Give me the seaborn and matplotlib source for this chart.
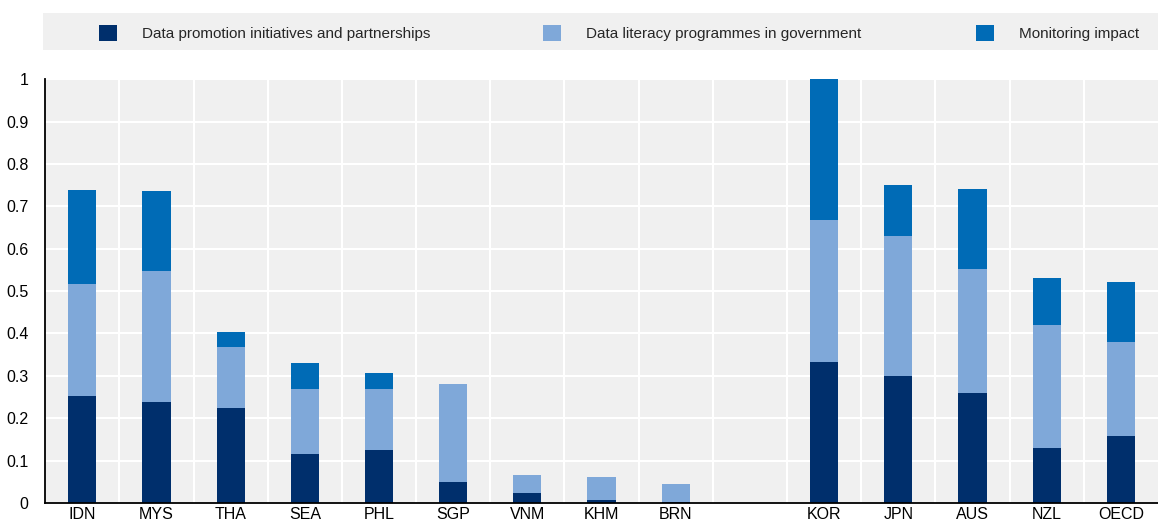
import numpy as np
import pandas as pd
import matplotlib
matplotlib.use("Agg")
import matplotlib.pyplot as plt
import matplotlib.patches as mpatches
import seaborn as sns

# Data (gap slot between BRN and KOR)
countries = ["IDN", "MYS", "THA", "SEA", "PHL", "SGP", "VNM", "KHM", "BRN", "",
             "KOR", "JPN", "AUS", "NZL", "OECD"]
promotion = [0.253, 0.239, 0.224, 0.115, 0.124, 0.049, 0.023, 0.008, 0.002, np.nan,
             0.333, 0.300, 0.260, 0.130, 0.159]
literacy = [0.263, 0.309, 0.143, 0.155, 0.145, 0.232, 0.043, 0.054, 0.044, np.nan,
            0.335, 0.331, 0.291, 0.290, 0.221]
monitoring = [0.222, 0.189, 0.036, 0.061, 0.037, 0.0, 0.0, 0.0, 0.0, np.nan,
              0.332, 0.119, 0.190, 0.110, 0.141]

series_names = ["Data promotion initiatives and partnerships",
                "Data literacy programmes in government",
                "Monitoring impact"]
colors = ["#002F6C", "#7FA8D9", "#006BB6"]

df = pd.DataFrame({"country": countries, "promotion": promotion,
                   "literacy": literacy, "monitoring": monitoring})
df["lvl1"] = df["promotion"]
df["lvl2"] = df["promotion"] + df["literacy"]
df["lvl3"] = df["lvl2"] + df["monitoring"]

sns.set_style("white")
plt.rcParams["font.family"] = ["Liberation Sans", "DejaVu Sans"]

fig = plt.figure(figsize=(11.58, 5.24), dpi=100)
ax = fig.add_axes([0.039, 0.040, 0.961, 0.809])
ax.set_facecolor("#F0F0F0")

# stacked: draw cumulative totals, tallest first
for col, c in zip(["lvl3", "lvl2", "lvl1"], [colors[2], colors[1], colors[0]]):
    sns.barplot(data=df, x="country", y=col, order=countries, color=c,
                width=0.38, saturation=1, linewidth=0, ax=ax, zorder=3)

n = len(countries)
ax.set_xlim(-0.5, n - 0.5)
ax.set_ylim(0, 1.0)
ax.set_yticks(np.arange(0, 1.01, 0.1))
ax.set_yticklabels(["0"] + [f"{v:.1f}" for v in np.arange(0.1, 0.95, 0.1)] + ["1"])
ax.set_xticks(range(n))
ax.set_xticklabels(countries)
ax.set_xticks(np.arange(0.5, n - 0.5, 1), minor=True)
ax.grid(False)
for y in np.arange(0.1, 1.01, 0.1):
    ax.axhline(y, color="white", linewidth=1.5, zorder=1)
for x in np.arange(0.5, n - 0.5, 1):
    ax.axvline(x, color="white", linewidth=1.5, zorder=1)

ax.tick_params(axis="x", which="major", length=0, labelsize=11.5, pad=3, colors="black")
ax.tick_params(axis="x", which="minor", direction="in", length=5, width=1.2, color="black")
ax.tick_params(axis="y", direction="in", length=5, width=1.2, labelsize=11.5, pad=12,
               colors="black")
ax.set_xlabel("")
ax.set_ylabel("")
for s in ["top", "right"]:
    ax.spines[s].set_visible(False)
for s in ["left", "bottom"]:
    ax.spines[s].set_color("black")
    ax.spines[s].set_linewidth(1.3)
ax.spines["left"].set_zorder(5)
ax.spines["bottom"].set_zorder(5)

# legend strip
W, H = 1158.0, 524.0
fig.patches.append(mpatches.Rectangle((43 / W, 1 - 50 / H), (1158 - 43) / W, 37 / H,
                                      transform=fig.transFigure, facecolor="#F0F0F0",
                                      edgecolor="none", zorder=0))
leg_x = [99, 543, 976]
for name, c, lx in zip(series_names, colors, leg_x):
    h = mpatches.Patch(facecolor=c, edgecolor="none")
    fig.legend([h], [name], loc="center left", bbox_to_anchor=(lx / W, 1 - 33 / H),
               frameon=False, fontsize=11, handlelength=1.2, handleheight=1.2,
               handletextpad=1.6, borderaxespad=0, borderpad=0)

fig.savefig("out.png", dpi=100)
